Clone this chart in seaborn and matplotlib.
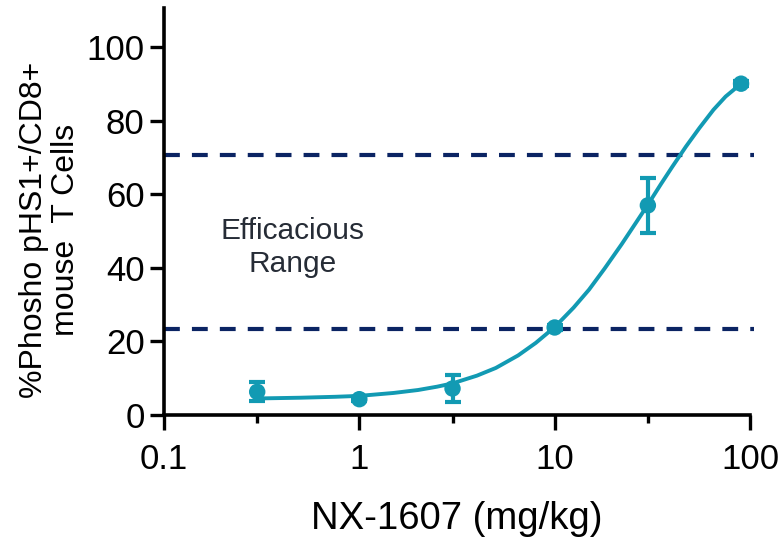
import matplotlib
matplotlib.use("Agg")
import matplotlib.pyplot as plt
import seaborn as sns
import pandas as pd

# ---- data ----
dose = [0.3, 1, 3, 10, 30, 90]
response = [6.3, 4.3, 7.2, 23.8, 57.0, 90.1]
sem = [2.6, 0.5, 3.6, 0.6, 7.5, 0.6]

# fitted curve
curve_x = [0.3, 0.5, 0.75, 1, 1.5, 2, 2.5, 3, 4, 5, 6.5, 8, 10, 12.5, 15, 18, 22, 26,
           30, 35, 40, 47, 55, 65, 75, 90]
curve_y = [4.5, 4.7, 4.95, 5.2, 6.0, 6.8, 7.7, 8.6, 10.7, 12.8, 16.2, 19.6, 23.9, 29.2,
           34.1, 39.8, 46.4, 52.2, 57.2, 62.8, 67.5, 73.0, 78.0, 83.0, 86.6, 90.1]

effic_low = 23.3
effic_high = 70.8
x_ticks = [0.1, 1, 10, 100]
x_ticklabels = ["0.1", "1", "10", "100"]
x_minor = [0.3, 3, 30]
y_ticks = [0, 20, 40, 60, 80, 100]

teal = "#129ab3"
navy = "#0b2463"

sns.set_style("ticks")
plt.rcParams["font.family"] = ["Liberation Sans", "DejaVu Sans"]
plt.rcParams["text.color"] = "black"
plt.rcParams["axes.labelcolor"] = "black"
plt.rcParams["xtick.color"] = "black"
plt.rcParams["ytick.color"] = "black"

fig = plt.figure(figsize=(7.84, 5.41), dpi=100)
ax = fig.add_axes([164 / 784, 126 / 541, 586 / 784, 406.7 / 541])

ax.set_xscale("log")
ax.set_xlim(0.1, 100)
ax.set_ylim(0, 110.6)

# efficacious range dashed lines
for yv in [effic_low, effic_high]:
    ax.plot([0.1, 105], [yv, yv], color=navy, lw=3.0, dashes=(3.8, 2.9),
            clip_on=False, zorder=2)

curve_df = pd.DataFrame({"dose": curve_x, "resp": curve_y})
sns.lineplot(data=curve_df, x="dose", y="resp", ax=ax, color=teal, lw=2.8,
             zorder=3, clip_on=False)

ax.errorbar(dose, response, yerr=sem, fmt="none", ecolor=teal, elinewidth=3,
            capsize=5.8, capthick=3, zorder=4, clip_on=False)
pts = pd.DataFrame({"dose": dose, "resp": response})
sns.scatterplot(data=pts, x="dose", y="resp", ax=ax, color=teal, s=140,
                edgecolor="none", zorder=5, clip_on=False)

ax.text(0.453, 45.6, "Efficacious\nRange", ha="center", va="center",
        fontsize=21.5, color="#262c36", linespacing=1.2)

ax.set_xticks(x_ticks)
ax.set_xticklabels(x_ticklabels)
ax.xaxis.set_minor_locator(matplotlib.ticker.FixedLocator(x_minor))
ax.xaxis.set_minor_formatter(matplotlib.ticker.NullFormatter())
ax.set_yticks(y_ticks)

for s in ["top", "right"]:
    ax.spines[s].set_visible(False)
for s in ["left", "bottom"]:
    ax.spines[s].set_linewidth(2.6)
    ax.spines[s].set_color("black")

ax.tick_params(axis="x", which="major", length=11, width=2.4, labelsize=25, pad=9)
ax.tick_params(axis="x", which="minor", length=6, width=2.4)
ax.tick_params(axis="y", which="major", length=10, width=2.4, labelsize=25, pad=4)

ax.set_xlabel("NX-1607 (mg/kg)", fontsize=27.5, labelpad=18)
ax.set_ylabel("%Phosho pHS1+/CD8+\nmouse  T Cells", fontsize=23, linespacing=1.1, va="center")
ax.yaxis.set_label_coords(-0.1945, 0.455)

fig.savefig("out.png", dpi=100)
